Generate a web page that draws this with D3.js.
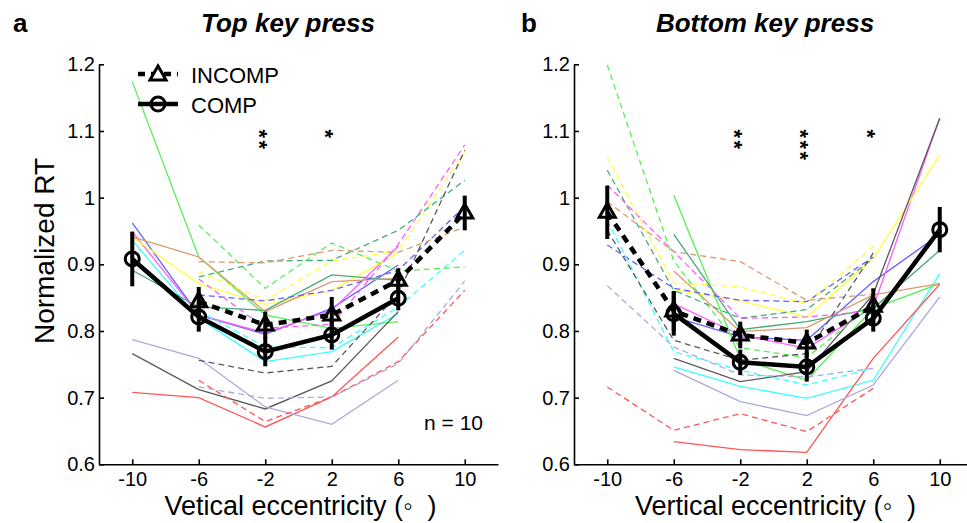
<!DOCTYPE html>
<html>
<head>
<meta charset="utf-8">
<script src="https://cdn.jsdelivr.net/npm/d3@7"></script>
<style>
  html, body { margin: 0; padding: 0; background: #fff; }
  svg { display: block; }
  text { font-family: "Liberation Sans", Arial, Helvetica, sans-serif; fill: #000; }
</style>
</head>
<body>
<svg id="chart" width="967" height="523"></svg>
<script>
// ---------------- DATA ----------------
const xTicks = [-10, -6, -2, 2, 6, 10];
const yTicks = [0.6, 0.7, 0.8, 0.9, 1.0, 1.1, 1.2];
const yTickLabels = ["0.6", "0.7", "0.8", "0.9", "1", "1.1", "1.2"];

const subjectColors = ["#6262ff", "#ff5cff", "#ffff3c", "#3cffff", "#55f055",
                       "#46aa78", "#dc9a6e", "#5a5a5a", "#ff5555", "#aaaadc"];

// Panel a (Top key press)
const topCompX = [-10, -6, -2, 2, 6];
const topIncompX = [-6, -2, 2, 6, 10];
const topCompSubjects = [
  [0.962, 0.824, 0.795, 0.834, 0.899],
  [0.949, 0.824, 0.797, 0.831, 0.927],
  [0.941, 0.871, 0.840, 0.861, 0.917],
  [0.936, 0.819, 0.754, 0.769, 0.826],
  [1.174, 0.911, 0.824, 0.804, 0.814],
  [0.891, 0.836, 0.831, 0.884, 0.876],
  [0.941, 0.911, 0.829, 0.874, 0.879],
  [0.766, 0.712, 0.683, 0.725, 0.829],
  [0.708, 0.700, 0.656, 0.701, 0.791],
  [0.787, 0.759, 0.686, 0.660, 0.726]
];
const topIncompSubjects = [
  [0.854, 0.845, 0.861, 0.891, 0.987],
  [0.878, 0.804, 0.810, 0.930, 1.079],
  [0.889, 0.846, 0.905, 0.920, 1.068],
  [0.830, 0.776, 0.775, 0.836, 0.921],
  [0.959, 0.864, 0.932, 0.890, 0.896],
  [0.881, 0.905, 0.906, 0.951, 1.026],
  [0.904, 0.902, 0.921, 0.918, 0.956],
  [0.756, 0.737, 0.747, 0.856, 1.071],
  [0.726, 0.664, 0.701, 0.754, 0.861],
  [0.716, 0.699, 0.701, 0.751, 0.875]
];
const topCompMean = [0.908, 0.821, 0.769, 0.794, 0.849];
const topCompErr = [0.041, 0.022, 0.022, 0.022, 0.018];
const topIncompMean = [0.844, 0.809, 0.824, 0.876, 0.977];
const topIncompErr = [0.022, 0.020, 0.027, 0.018, 0.026];
const topStars = [["**", -2], ["*", 2]];

// Panel b (Bottom key press)
const botIncompX = [-10, -6, -2, 2, 6];
const botCompX = [-6, -2, 2, 6, 10];
const botIncompSubjects = [
  [0.929, 0.864, 0.846, 0.844, 0.911],
  [1.019, 0.919, 0.819, 0.821, 0.830],
  [1.061, 0.872, 0.866, 0.841, 0.927],
  [0.966, 0.769, 0.741, 0.719, 0.744],
  [1.199, 0.905, 0.775, 0.760, 0.840],
  [1.041, 0.861, 0.819, 0.832, 0.909],
  [0.994, 0.919, 0.904, 0.846, 0.855],
  [0.951, 0.786, 0.756, 0.766, 0.917],
  [0.716, 0.651, 0.676, 0.649, 0.714],
  [0.868, 0.776, 0.734, 0.731, 0.744]
];
const botCompSubjects = [
  [0.821, 0.791, 0.786, 0.874, 0.945],
  [0.841, 0.794, 0.774, 0.836, 1.119],
  [0.862, 0.845, 0.821, 0.909, 1.064],
  [0.746, 0.717, 0.699, 0.726, 0.886],
  [1.004, 0.758, 0.726, 0.834, 0.871],
  [0.945, 0.802, 0.814, 0.834, 0.921],
  [0.890, 0.799, 0.805, 0.854, 0.871],
  [0.759, 0.724, 0.739, 0.855, 1.119],
  [0.634, 0.622, 0.618, 0.759, 0.870],
  [0.741, 0.694, 0.673, 0.719, 0.851]
];
const botIncompMean = [0.978, 0.830, 0.794, 0.782, 0.837];
const botIncompErr = [0.040, 0.030, 0.020, 0.020, 0.027];
const botCompMean = [0.826, 0.753, 0.746, 0.819, 0.952];
const botCompErr = [0.033, 0.019, 0.022, 0.020, 0.034];
const botStars = [["**", -2], ["***", 2], ["*", 6]];

// ---------------- DRAWING ----------------
const svg = d3.select("#chart");
const y = d3.scaleLinear().domain([0.6, 1.2]).range([464.3, 64.3]);

const panels = [
  { left: 99, right: 498, letter: "a", letterX: 13, title: "Top key press", titleX: 288,
    xlabel: "Vetical eccentricity (\u25E6  )",
    compX: topCompX, incompX: topIncompX,
    compS: topCompSubjects, incompS: topIncompSubjects,
    compM: topCompMean, compE: topCompErr, incompM: topIncompMean, incompE: topIncompErr,
    stars: topStars, legend: true, n: true, ylabel: true },
  { left: 574, right: 973, letter: "b", letterX: 521, title: "Bottom key press", titleX: 765,
    xlabel: "Vertical eccentricity (\u25E6  )",
    compX: botCompX, incompX: botIncompX,
    compS: botCompSubjects, incompS: botIncompSubjects,
    compM: botCompMean, compE: botCompErr, incompM: botIncompMean, incompE: botIncompErr,
    stars: botStars, legend: false, n: false, ylabel: false }
];

const triPath = "M0,-9L8,5L-8,5Z";

panels.forEach(p => {
  const x = d3.scaleLinear().domain([-12, 12]).range([p.left, p.right]);
  const g = svg.append("g");
  const line = (xs) => d3.line().x((d, i) => x(xs[i])).y(d => y(d));

  // subject lines
  p.compS.forEach((vals, i) => {
    g.append("path").datum(vals).attr("d", line(p.compX))
      .attr("fill", "none").attr("stroke", subjectColors[i]).attr("stroke-width", 1.3);
  });
  p.incompS.forEach((vals, i) => {
    g.append("path").datum(vals).attr("d", line(p.incompX))
      .attr("fill", "none").attr("stroke", subjectColors[i]).attr("stroke-width", 1.3)
      .attr("stroke-dasharray", "6,4");
  });

  // mean lines
  g.append("path").datum(p.incompM).attr("d", line(p.incompX))
    .attr("fill", "none").attr("stroke", "#000").attr("stroke-width", 4.5)
    .attr("stroke-dasharray", "8,6");
  g.append("path").datum(p.compM).attr("d", line(p.compX))
    .attr("fill", "none").attr("stroke", "#000").attr("stroke-width", 4.5);

  // error bars
  p.incompM.forEach((m, i) => {
    g.append("line").attr("x1", x(p.incompX[i])).attr("x2", x(p.incompX[i]))
      .attr("y1", y(m - p.incompE[i])).attr("y2", y(m + p.incompE[i]))
      .attr("stroke", "#000").attr("stroke-width", 4);
  });
  p.compM.forEach((m, i) => {
    g.append("line").attr("x1", x(p.compX[i])).attr("x2", x(p.compX[i]))
      .attr("y1", y(m - p.compE[i])).attr("y2", y(m + p.compE[i]))
      .attr("stroke", "#000").attr("stroke-width", 4);
  });

  // markers
  p.incompM.forEach((m, i) => {
    g.append("path").attr("d", triPath)
      .attr("transform", `translate(${x(p.incompX[i])},${y(m)})`)
      .attr("fill", "none").attr("stroke", "#000").attr("stroke-width", 3)
      .attr("stroke-linejoin", "miter");
  });
  p.compM.forEach((m, i) => {
    g.append("circle").attr("cx", x(p.compX[i])).attr("cy", y(m)).attr("r", 7)
      .attr("fill", "none").attr("stroke", "#000").attr("stroke-width", 3);
  });

  // axes
  const ya = g.append("g").attr("transform", `translate(${p.left},0)`)
    .call(d3.axisLeft(y).tickValues(yTicks).tickFormat((d, i) => yTickLabels[i])
      .tickSizeInner(-5).tickSizeOuter(0).tickPadding(4));
  const xa = g.append("g").attr("transform", `translate(0,${y(0.6)})`)
    .call(d3.axisBottom(x).tickValues(xTicks).tickFormat(d => String(d))
      .tickSizeInner(-5).tickSizeOuter(0).tickPadding(8));
  [ya, xa].forEach(a => {
    a.select(".domain").attr("stroke", "#000").attr("stroke-width", 1.6);
    a.selectAll(".tick line").attr("stroke", "#000").attr("stroke-width", 1.6);
    a.selectAll(".tick text").attr("font-size", 20)
      .attr("font-family", '"Liberation Sans", Arial, sans-serif').attr("fill", "#000");
  });

  // significance stars: one text per stack, stacked vertically by rotation
  p.stars.forEach(([s, xv]) => {
    const cx = x(xv) - 1;
    g.append("text")
      .attr("transform", `translate(${cx - 12.5},${129.5}) rotate(90)`)
      .attr("font-size", 22).attr("font-weight", "bold")
      .attr("letter-spacing", 2.4).text(s);
  });

  // titles
  svg.append("text").attr("x", p.letterX).attr("y", 32).attr("font-size", 26)
    .attr("font-weight", "bold").text(p.letter);
  svg.append("text").attr("x", p.titleX).attr("y", 32).attr("font-size", 26)
    .attr("font-weight", "bold").attr("font-style", "italic")
    .attr("text-anchor", "middle").text(p.title);

  // x label
  svg.append("text").attr("x", (p.left + p.right) / 2 + 2).attr("y", 515)
    .attr("font-size", 27).attr("text-anchor", "middle")
    .style("white-space", "pre").text(p.xlabel);

  if (p.ylabel) {
    svg.append("text").attr("transform", "translate(54,251) rotate(-90)")
      .attr("font-size", 28).attr("text-anchor", "middle").text("Normalized RT");
  }
  if (p.n) {
    svg.append("text").attr("x", 483).attr("y", 430).attr("font-size", 21)
      .attr("text-anchor", "end").style("white-space", "pre").text("n = 10");
  }
  if (p.legend) {
    const lg = svg.append("g");
    lg.append("line").attr("x1", 138).attr("x2", 178).attr("y1", 74).attr("y2", 74)
      .attr("stroke", "#000").attr("stroke-width", 4.5).attr("stroke-dasharray", "7,6");
    lg.append("path").attr("d", triPath).attr("transform", "translate(158,75)")
      .attr("fill", "#fff").attr("stroke", "#000").attr("stroke-width", 3);
    lg.append("line").attr("x1", 138).attr("x2", 178).attr("y1", 104).attr("y2", 104)
      .attr("stroke", "#000").attr("stroke-width", 4.5);
    lg.append("circle").attr("cx", 158).attr("cy", 104).attr("r", 7)
      .attr("fill", "none").attr("stroke", "#000").attr("stroke-width", 3);
    lg.append("text").attr("x", 191).attr("y", 83).attr("font-size", 22).text("INCOMP");
    lg.append("text").attr("x", 191).attr("y", 113).attr("font-size", 22).text("COMP");
  }
});
</script>
</body>
</html>
